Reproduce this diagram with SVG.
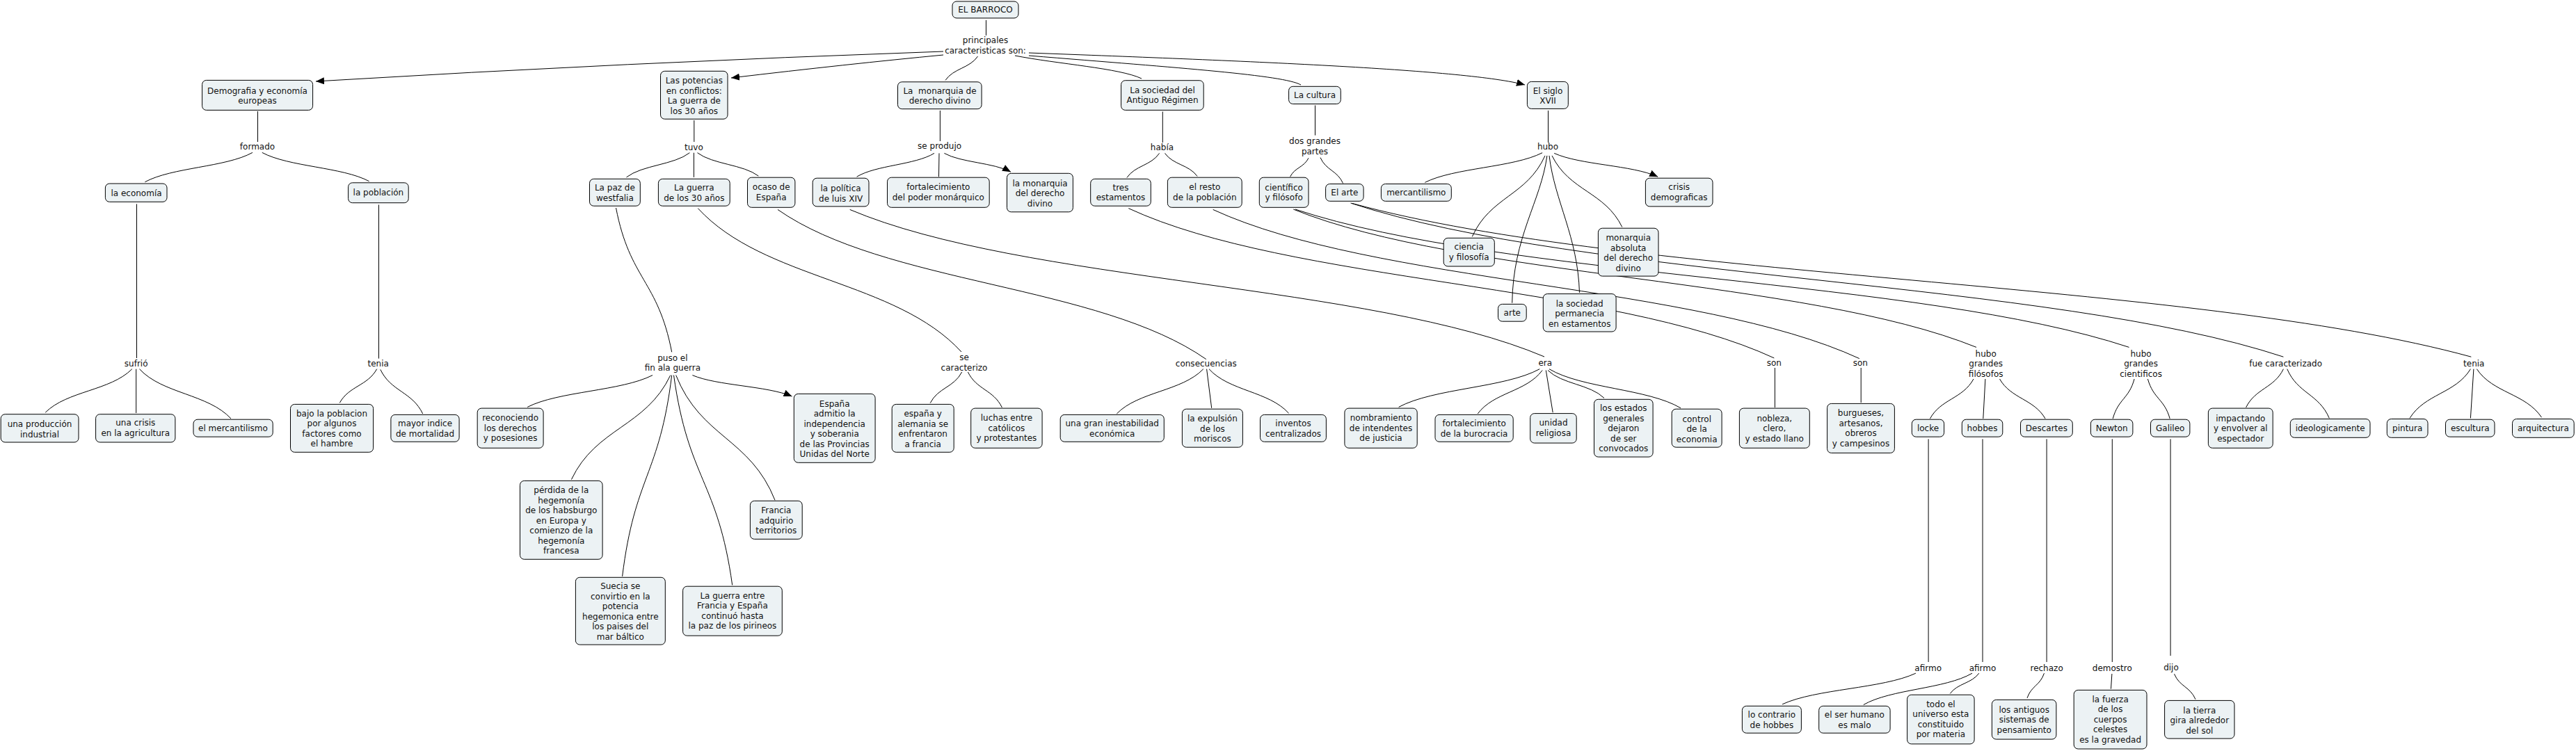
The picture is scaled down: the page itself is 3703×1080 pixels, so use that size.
<svg xmlns="http://www.w3.org/2000/svg" width="3703" height="1080" viewBox="0 0 3703 1080">
<style>
.n rect{fill:#ecf2f4;stroke:#000;stroke-width:1}
text{font-family:"DejaVu Sans",Verdana,sans-serif;font-size:12px;fill:#111;text-anchor:middle}
.c path,.c line{fill:none;stroke:#000;stroke-width:1}
</style>
<defs>
<marker id="ah" markerWidth="12" markerHeight="10" refX="12" refY="5" orient="auto" markerUnits="userSpaceOnUse"><path d="M0,0 L12,5 L0,10 z" fill="#000"/></marker>
</defs>
<rect x="0" y="0" width="3703" height="1080" fill="#fff"/>
<g id="connectors" class="c">
<line x1="1417.5" y1="29" x2="1417.5" y2="51"/>
<path d="M1356,74 Q900,90 454,117" marker-end="url(#ah)"/>
<path d="M1356,79 Q1220,92 1051,112" marker-end="url(#ah)"/>
<path d="M1405.6,81 C1393.9,98.2 1370.7,98.2 1359,115.4"/>
<path d="M1459,80 C1520,92 1610,98 1641,113"/>
<path d="M1479,80 C1700,98 1845,108 1870,122"/>
<path d="M1479,76 C1800,88 2110,100 2192,122" marker-end="url(#ah)"/>
<line x1="370.5" y1="160" x2="370.5" y2="204"/>
<line x1="997.8" y1="173" x2="997.8" y2="204"/>
<line x1="1351.4" y1="159" x2="1351.4" y2="203"/>
<line x1="1671.3" y1="160.5" x2="1671.3" y2="205"/>
<line x1="1890.5" y1="151.5" x2="1890.5" y2="194.6"/>
<line x1="2225.5" y1="159" x2="2225.5" y2="205"/>
<line x1="196.5" y1="293.4" x2="196.5" y2="515"/>
<line x1="544.5" y1="294.5" x2="544.5" y2="515.6"/>
<line x1="195.7" y1="530.7" x2="195.7" y2="594"/>
<line x1="997.4" y1="219.7" x2="997.4" y2="254.9"/>
<line x1="1350" y1="220.4" x2="1349.5" y2="254.2"/>
<line x1="2551.4" y1="529" x2="2551.4" y2="586"/>
<line x1="2675.2" y1="529" x2="2675.2" y2="579"/>
<line x1="2772.1" y1="631.4" x2="2772.1" y2="952"/>
<line x1="2850" y1="631.4" x2="2850" y2="952"/>
<line x1="2942.1" y1="631.4" x2="2942.1" y2="952"/>
<line x1="3036.3" y1="631.4" x2="3036.3" y2="952"/>
<line x1="3120.1" y1="631.4" x2="3120.1" y2="943"/>
<line x1="3035.9" y1="969" x2="3034.5" y2="990.7"/>
<line x1="2853.9" y1="545" x2="2850.8" y2="602"/>
<line x1="1734.6" y1="530.7" x2="1741.7" y2="586.8"/>
<line x1="2222.3" y1="532.5" x2="2232.2" y2="593.2"/>
<line x1="3555.9" y1="530.7" x2="3551.4" y2="601.4"/>
<path d="M363,219.4 C324.4,240.6 247.1,240.6 208.4,261.7"/>
<path d="M376.8,219.4 C415.3,240.1 492.2,240.1 530.6,260.7"/>
<path d="M991.4,219.7 C968.7,237.3 923.2,237.3 900.5,254.9"/>
<path d="M1002.5,219.7 C1024.5,236.4 1068.4,236.4 1090.3,253.1"/>
<path d="M1343,220.4 C1315.2,237.3 1259.5,237.3 1231.6,254.2"/>
<path d="M1357.4,220.4 C1381.3,233.9 1429.1,233.9 1453,247.3" marker-end="url(#ah)"/>
<path d="M1666.6,220.4 C1654.9,238 1631.6,238 1619.9,255.5"/>
<path d="M1674.5,220.4 C1686.2,237 1709.5,237 1721.1,253.5"/>
<path d="M1881,227.3 C1874.4,240.8 1861.2,240.8 1854.6,254.2"/>
<path d="M1898,226.6 C1906.1,245.1 1922.4,245.1 1930.5,263.5"/>
<path d="M2217.1,219.7 C2174.9,241.1 2090.5,241.1 2048.3,262.4"/>
<path d="M2234.2,220.4 C2271.5,237.3 2345.9,237.3 2383.2,254.2" marker-end="url(#ah)"/>
<path d="M2221,223.9 C2194.8,282.1 2142.5,282.1 2116.3,340.3"/>
<path d="M2223.9,223.9 C2215,290 2175,340 2173.7,435.7"/>
<path d="M2227,223.9 C2235,290 2268,340 2270.5,420.9"/>
<path d="M2231,223.9 C2256.2,275.2 2306.6,275.2 2331.8,326.5"/>
<path d="M189.8,530.7 C158.7,562 96.4,562 65.2,593.2"/>
<path d="M200.5,530.7 C233.4,566.4 299.1,566.4 332,602"/>
<path d="M541.7,530.7 C528.3,555 501.7,555 488.3,579.3"/>
<path d="M546.8,531.4 C562,563.2 592.5,563.2 607.7,595"/>
<path d="M885.5,299 C905.6,402.7 945.6,402.7 965.7,506.3"/>
<path d="M938,539.6 C893.1,562.5 803.2,562.5 758.2,585.4"/>
<path d="M995.4,539.6 C1031.2,554.8 1102.7,554.8 1138.5,570" marker-end="url(#ah)"/>
<path d="M963.8,539.6 C928.2,614.6 857,614.6 821.4,689.6"/>
<path d="M965.7,539.6 C947.9,684.3 912.4,684.3 894.6,828.9"/>
<path d="M968.5,539.6 C989.6,690.5 1031.7,690.5 1052.7,841.4"/>
<path d="M971.7,539.6 C1007.3,629.5 1078.4,629.5 1114,719.3"/>
<path d="M1003.3,299.6 C1098,402.8 1287.3,402.8 1382,506"/>
<path d="M1382.7,535 C1371.3,557.3 1348.6,557.3 1337.2,579.6"/>
<path d="M1391.4,535 C1403.7,560.5 1428.2,560.5 1440.4,586"/>
<path d="M1118,301.4 C1272,409 1579.9,409 1733.8,516.6"/>
<path d="M1729.8,530.7 C1698.7,562.9 1636.4,562.9 1605.3,595"/>
<path d="M1738,530.7 C1766.7,562.5 1824,562.5 1852.6,594.3"/>
<path d="M1221.7,301.4 C1471.3,407.2 1970.4,407.2 2220,513"/>
<path d="M2213.2,530.7 C2162.6,558.1 2061.3,558.1 2010.7,585.4"/>
<path d="M2217.1,532.5 C2193.9,563.8 2147.4,563.8 2124.2,595"/>
<path d="M2225,532.5 C2245.3,552.5 2285.8,552.5 2306,572.5"/>
<path d="M2227,530.7 C2274.3,558.8 2368.8,558.8 2416,586.8"/>
<path d="M1622.3,299.6 C1854.3,407.3 2318.3,407.3 2550.3,514.9"/>
<path d="M1743.7,301.4 C1976,408.5 2440.5,408.5 2672.8,515.6"/>
<path d="M1859.3,301 C2104.7,400.2 2595.6,400.2 2841,499.4"/>
<path d="M1862,301 C2161.6,400.2 2760.9,400.2 3060.5,499.4"/>
<path d="M1941.6,292 C2276.8,402.6 2947.2,402.6 3282.4,513.2"/>
<path d="M1944,292.5 C2346.1,402.9 3150.2,402.9 3552.3,513.2"/>
<path d="M2837,545 C2821.4,573.6 2790,573.6 2774.4,602.1"/>
<path d="M2874.5,545 C2890.9,573.6 2923.7,573.6 2940.1,602.1"/>
<path d="M3068.1,545 C3060.4,573.6 3044.9,573.6 3037.2,602.1"/>
<path d="M3087.4,545 C3095.4,573.6 3111.3,573.6 3119.2,602.1"/>
<path d="M3282.4,530.7 C3269,558.4 3242.1,558.4 3228.6,586"/>
<path d="M3287.8,530.7 C3302.9,566.1 3333.2,566.1 3348.3,601.4"/>
<path d="M3551.4,530.7 C3529.6,566.1 3485.9,566.1 3464,601.4"/>
<path d="M3560.4,530.7 C3583.7,565.5 3630.3,565.5 3653.6,600.3"/>
<path d="M2753.9,968.2 C2705.9,990.5 2610.1,990.5 2562.1,1012.8"/>
<path d="M2835,968.2 C2796,990.9 2717.9,990.9 2678.8,1013.5"/>
<path d="M2844.8,968.2 C2834.4,982.8 2813.7,982.8 2803.3,997.4"/>
<path d="M2938.5,968.2 C2932.4,986.1 2920.1,986.1 2914,1003.9"/>
<path d="M3125.5,969.2 C3133.1,987.5 3148.4,987.5 3156,1005.7"/>
</g>
<g id="labels">
<text x="1416.5" y="62.4"><tspan x="1416.5">principales</tspan><tspan x="1416.5" dy="14.5">caracteristicas son:</tspan></text>
<text x="370" y="215.3">formado</text>
<text x="997.4" y="215.6">tuvo</text>
<text x="1350.6" y="214.2">se produjo</text>
<text x="1670.5" y="216">había</text>
<text x="1890" y="207.3"><tspan x="1890">dos grandes</tspan><tspan x="1890" dy="14.5">partes</tspan></text>
<text x="2225" y="215.3">hubo</text>
<text x="195.7" y="527.2">sufrió</text>
<text x="543.7" y="527.2">tenia</text>
<text x="966.9" y="518.7"><tspan x="966.9">puso el</tspan><tspan x="966.9" dy="14.5">fin ala guerra</tspan></text>
<text x="1386" y="518.3"><tspan x="1386">se</tspan><tspan x="1386" dy="14.5">caracterizo</tspan></text>
<text x="1733.8" y="527.3">consecuencias</text>
<text x="2221.3" y="526.3">era</text>
<text x="2550.3" y="526.3">son</text>
<text x="2674.3" y="526.3">son</text>
<text x="2854.7" y="512.5"><tspan x="2854.7">hubo</tspan><tspan x="2854.7" dy="14.5">grandes</tspan><tspan x="2854.7" dy="14.5">filósofos</tspan></text>
<text x="3077.6" y="512.5"><tspan x="3077.6">hubo</tspan><tspan x="3077.6" dy="14.5">grandes</tspan><tspan x="3077.6" dy="14.5">cientificos</tspan></text>
<text x="3285.6" y="527.2">fue caracterizado</text>
<text x="3556.3" y="527.2">tenia</text>
<text x="2771.7" y="964.5">afirmo</text>
<text x="2850" y="964.5">afirmo</text>
<text x="2942.1" y="964.5">rechazo</text>
<text x="3036.3" y="964.5">demostro</text>
<text x="3121" y="963.7">dijo</text>
</g>
<g id="n-barroco" class="n"><rect x="1369" y="2" width="95" height="24" rx="6"/><text x="1416.5" y="18.3">EL BARROCO</text></g>
<g id="n-demografia" class="n"><rect x="290.6" y="115.4" width="159" height="43" rx="6"/><text y="134.5"><tspan x="370">Demografia y economía</tspan><tspan x="370" dy="14.5">europeas</tspan></text></g>
<g id="n-potencias" class="n"><rect x="949.5" y="102.3" width="96.5" height="68.9" rx="6"/><text y="120.2"><tspan x="997.8">Las potencias</tspan><tspan x="997.8" dy="14.5">en conflictos:</tspan><tspan x="997.8" dy="14.5">La guerra de</tspan><tspan x="997.8" dy="14.5">los 30 años</tspan></text></g>
<g id="n-monarquia" class="n"><rect x="1290.5" y="117.8" width="120.6" height="38.9" rx="6"/><text y="134.7" xml:space="preserve"><tspan x="1351">La  monarquia de</tspan><tspan x="1351" dy="14.5">derecho divino</tspan></text></g>
<g id="n-sociedad" class="n"><rect x="1611.6" y="115.7" width="118.6" height="42.7" rx="6"/><text y="133.7"><tspan x="1671">La sociedad del</tspan><tspan x="1671" dy="14.5">Antiguo Régimen</tspan></text></g>
<g id="n-cultura" class="n"><rect x="1852.6" y="124.3" width="74.7" height="25.2" rx="6"/><text x="1890" y="141.2">La cultura</text></g>
<g id="n-siglo" class="n"><rect x="2195.4" y="117.4" width="58.9" height="39" rx="6"/><text y="134.7"><tspan x="2225">El siglo</tspan><tspan x="2225" dy="14.5">XVII</tspan></text></g>
<g id="n-economia" class="n"><rect x="151.4" y="264" width="88.6" height="26.3" rx="6"/><text x="196" y="281.7">la economía</text></g>
<g id="n-poblacion" class="n"><rect x="500.6" y="262.8" width="86.6" height="28.9" rx="6"/><text x="543.9" y="281">la población</text></g>
<g id="n-westfalia" class="n"><rect x="847.5" y="257.3" width="72.8" height="38.9" rx="6"/><text y="274.2"><tspan x="883.9">La paz de</tspan><tspan x="883.9" dy="14.5">westfalia</tspan></text></g>
<g id="n-guerra30" class="n"><rect x="946.4" y="257.3" width="102.8" height="38.9" rx="6"/><text y="274.2"><tspan x="997.8">La guerra</tspan><tspan x="997.8" dy="14.5">de los 30 años</tspan></text></g>
<g id="n-ocaso" class="n"><rect x="1074.5" y="255.2" width="68.4" height="43.1" rx="6"/><text y="273.1"><tspan x="1108.7">ocaso de</tspan><tspan x="1108.7" dy="14.5">España</tspan></text></g>
<g id="n-politica" class="n"><rect x="1168.2" y="256.2" width="80.8" height="40.7" rx="6"/><text y="275.2"><tspan x="1208.6">la política</tspan><tspan x="1208.6" dy="14.5">de luis XIV</tspan></text></g>
<g id="n-fortalecimiento" class="n"><rect x="1275.5" y="255.2" width="146.7" height="43.1" rx="6"/><text y="273.1"><tspan x="1348.8">fortalecimiento</tspan><tspan x="1348.8" dy="14.5">del poder monárquico</tspan></text></g>
<g id="n-monarquia2" class="n"><rect x="1447.5" y="249.3" width="94.9" height="55.5" rx="6"/><text y="267.6"><tspan x="1495">la monarquia</tspan><tspan x="1495" dy="14.5">del derecho</tspan><tspan x="1495" dy="14.5">divino</tspan></text></g>
<g id="n-tres" class="n"><rect x="1567.7" y="257.3" width="86.6" height="38.9" rx="6"/><text y="273.8"><tspan x="1611">tres</tspan><tspan x="1611" dy="14.5">estamentos</tspan></text></g>
<g id="n-resto" class="n"><rect x="1678.4" y="255.2" width="106.8" height="43.1" rx="6"/><text y="273.1"><tspan x="1731.8">el resto</tspan><tspan x="1731.8" dy="14.5">de la población</tspan></text></g>
<g id="n-cientifico" class="n"><rect x="1810.3" y="255.2" width="70.7" height="43.1" rx="6"/><text y="273.8"><tspan x="1845.6">científico</tspan><tspan x="1845.6" dy="14.5">y filósofo</tspan></text></g>
<g id="n-elarte" class="n"><rect x="1905.6" y="264.5" width="54.5" height="24.8" rx="6"/><text x="1932.9" y="281.4">El arte</text></g>
<g id="n-mercantilismo" class="n"><rect x="1985.4" y="264.5" width="100.9" height="24.8" rx="6"/><text x="2035.8" y="281.4">mercantilismo</text></g>
<g id="n-crisis" class="n"><rect x="2365.4" y="256.2" width="96.6" height="40.7" rx="6"/><text y="273.1"><tspan x="2413.7">crisis</tspan><tspan x="2413.7" dy="14.5">demograficas</tspan></text></g>
<g id="n-ciencia" class="n"><rect x="2075.2" y="342.3" width="73.1" height="40.7" rx="6"/><text y="359.2"><tspan x="2111.7">ciencia</tspan><tspan x="2111.7" dy="14.5">y filosofía</tspan></text></g>
<g id="n-monarquiaabs" class="n"><rect x="2297.4" y="328.2" width="86.6" height="68.9" rx="6"/><text y="346.1"><tspan x="2340.7">monarquia</tspan><tspan x="2340.7" dy="14.5">absoluta</tspan><tspan x="2340.7" dy="14.5">del derecho</tspan><tspan x="2340.7" dy="14.5">divino</tspan></text></g>
<g id="n-arte" class="n"><rect x="2153.5" y="437.4" width="40.7" height="24.8" rx="6"/><text x="2173.8" y="454.3">arte</text></g>
<g id="n-sociedadperm" class="n"><rect x="2218.3" y="422.6" width="104.8" height="54.4" rx="6"/><text y="440.5"><tspan x="2270.7">la sociedad</tspan><tspan x="2270.7" dy="14.5">permanecia</tspan><tspan x="2270.7" dy="14.5">en estamentos</tspan></text></g>
<g id="n-produccion" class="n"><rect x="1.2" y="595.7" width="111.8" height="40.3" rx="6"/><text y="614.1"><tspan x="57">una producción</tspan><tspan x="57" dy="14.5">industrial</tspan></text></g>
<g id="n-crisisagri" class="n"><rect x="137.6" y="595.7" width="114.3" height="40.3" rx="6"/><text y="612.3"><tspan x="194.8">una crisis</tspan><tspan x="194.8" dy="14.5">en la agricultura</tspan></text></g>
<g id="n-mercantilismo2" class="n"><rect x="278" y="603.2" width="114.2" height="25" rx="6"/><text x="335" y="620.2">el mercantilismo</text></g>
<g id="n-bajo" class="n"><rect x="417.5" y="581.4" width="119.1" height="68.9" rx="6"/><text y="598.5"><tspan x="477">bajo la poblacion</tspan><tspan x="477" dy="14.5">por algunos</tspan><tspan x="477" dy="14.5">factores como</tspan><tspan x="477" dy="14.5">el hambre</tspan></text></g>
<g id="n-mayor" class="n"><rect x="561.9" y="596.4" width="98.2" height="38.9" rx="6"/><text y="613.1"><tspan x="611">mayor indice</tspan><tspan x="611" dy="14.5">de mortalidad</tspan></text></g>
<g id="n-reconociendo" class="n"><rect x="686.2" y="587.1" width="94.9" height="57.2" rx="6"/><text y="605.2"><tspan x="733.6">reconociendo</tspan><tspan x="733.6" dy="14.5">los derechos</tspan><tspan x="733.6" dy="14.5">y posesiones</tspan></text></g>
<g id="n-perdida" class="n"><rect x="747.5" y="691.4" width="118.6" height="112.9" rx="6"/><text y="709.1"><tspan x="806.8">pérdida de la</tspan><tspan x="806.8" dy="14.5">hegemonía</tspan><tspan x="806.8" dy="14.5">de los habsburgo</tspan><tspan x="806.8" dy="14.5">en Europa y</tspan><tspan x="806.8" dy="14.5">comienzo de la</tspan><tspan x="806.8" dy="14.5">hegemonía</tspan><tspan x="806.8" dy="14.5">francesa</tspan></text></g>
<g id="n-suecia" class="n"><rect x="827.4" y="830.3" width="128.9" height="96.8" rx="6"/><text y="847.3"><tspan x="891.8">Suecia se</tspan><tspan x="891.8" dy="14.5">convirtio en la</tspan><tspan x="891.8" dy="14.5">potencia</tspan><tspan x="891.8" dy="14.5">hegemonica entre</tspan><tspan x="891.8" dy="14.5">los paises del</tspan><tspan x="891.8" dy="14.5">mar báltico</tspan></text></g>
<g id="n-guerraentre" class="n"><rect x="981.6" y="843.2" width="142.7" height="71" rx="6"/><text y="860.9"><tspan x="1052.9">La guerra entre</tspan><tspan x="1052.9" dy="14.5">Francia y España</tspan><tspan x="1052.9" dy="14.5">continuó hasta</tspan><tspan x="1052.9" dy="14.5">la paz de los pirineos</tspan></text></g>
<g id="n-francia" class="n"><rect x="1078.4" y="720.3" width="74.8" height="55" rx="6"/><text y="738"><tspan x="1115.8">Francia</tspan><tspan x="1115.8" dy="14.5">adquirio</tspan><tspan x="1115.8" dy="14.5">territorios</tspan></text></g>
<g id="n-espana" class="n"><rect x="1141.3" y="566.4" width="116.8" height="98.9" rx="6"/><text y="584.5"><tspan x="1199.7">España</tspan><tspan x="1199.7" dy="14.5">admitio la</tspan><tspan x="1199.7" dy="14.5">independencia</tspan><tspan x="1199.7" dy="14.5">y soberania</tspan><tspan x="1199.7" dy="14.5">de las Provincias</tspan><tspan x="1199.7" dy="14.5">Unidas del Norte</tspan></text></g>
<g id="n-espanaalemania" class="n"><rect x="1282.2" y="581.4" width="89" height="68.9" rx="6"/><text y="599.1"><tspan x="1326.7">españa y</tspan><tspan x="1326.7" dy="14.5">alemania se</tspan><tspan x="1326.7" dy="14.5">enfrentaron</tspan><tspan x="1326.7" dy="14.5">a francia</tspan></text></g>
<g id="n-luchas" class="n"><rect x="1395.7" y="587.1" width="102.4" height="57.2" rx="6"/><text y="605.2"><tspan x="1446.9">luchas entre</tspan><tspan x="1446.9" dy="14.5">católicos</tspan><tspan x="1446.9" dy="14.5">y protestantes</tspan></text></g>
<g id="n-inestabilidad" class="n"><rect x="1524.2" y="596.4" width="149.1" height="38.9" rx="6"/><text y="613.4"><tspan x="1598.7">una gran inestabilidad</tspan><tspan x="1598.7" dy="14.5">económica</tspan></text></g>
<g id="n-expulsion" class="n"><rect x="1699.4" y="588.2" width="87" height="55" rx="6"/><text y="606.3"><tspan x="1742.9">la expulsión</tspan><tspan x="1742.9" dy="14.5">de los</tspan><tspan x="1742.9" dy="14.5">moriscos</tspan></text></g>
<g id="n-inventos" class="n"><rect x="1811.5" y="596.4" width="94.9" height="38.9" rx="6"/><text y="613.1"><tspan x="1859">inventos</tspan><tspan x="1859" dy="14.5">centralizados</tspan></text></g>
<g id="n-nombramiento" class="n"><rect x="1932.9" y="587.1" width="104.3" height="57.2" rx="6"/><text y="605.2"><tspan x="1985">nombramiento</tspan><tspan x="1985" dy="14.5">de intendentes</tspan><tspan x="1985" dy="14.5">de justicia</tspan></text></g>
<g id="n-burocracia" class="n"><rect x="2063" y="596.4" width="112.2" height="38.9" rx="6"/><text y="613.1"><tspan x="2119.1">fortalecimiento</tspan><tspan x="2119.1" dy="14.5">de la burocracia</tspan></text></g>
<g id="n-unidad" class="n"><rect x="2199.7" y="594.6" width="66.5" height="42.5" rx="6"/><text y="612.3"><tspan x="2233">unidad</tspan><tspan x="2233" dy="14.5">religiosa</tspan></text></g>
<g id="n-estados" class="n"><rect x="2291.5" y="574.3" width="84.6" height="82.8" rx="6"/><text y="591.3"><tspan x="2333.8">los estados</tspan><tspan x="2333.8" dy="14.5">generales</tspan><tspan x="2333.8" dy="14.5">dejaron</tspan><tspan x="2333.8" dy="14.5">de ser</tspan><tspan x="2333.8" dy="14.5">convocados</tspan></text></g>
<g id="n-control" class="n"><rect x="2403.2" y="588.2" width="71.9" height="55" rx="6"/><text y="606.6"><tspan x="2439.2">control</tspan><tspan x="2439.2" dy="14.5">de la</tspan><tspan x="2439.2" dy="14.5">economia</tspan></text></g>
<g id="n-nobleza" class="n"><rect x="2500.4" y="587.1" width="100.9" height="57.2" rx="6"/><text y="605.9"><tspan x="2550.8">nobleza,</tspan><tspan x="2550.8" dy="14.5">clero,</tspan><tspan x="2550.8" dy="14.5">y estado llano</tspan></text></g>
<g id="n-burgueses" class="n"><rect x="2626.6" y="580.4" width="96.8" height="71" rx="6"/><text y="598.1"><tspan x="2675">burgueses,</tspan><tspan x="2675" dy="14.5">artesanos,</tspan><tspan x="2675" dy="14.5">obreros</tspan><tspan x="2675" dy="14.5">y campesinos</tspan></text></g>
<g id="n-locke" class="n"><rect x="2748.3" y="603.2" width="46.3" height="25" rx="6"/><text x="2771.5" y="620.2">locke</text></g>
<g id="n-hobbes" class="n"><rect x="2820.3" y="603.2" width="58.5" height="25" rx="6"/><text x="2849.5" y="620.2">hobbes</text></g>
<g id="n-descartes" class="n"><rect x="2904.5" y="603.2" width="74.8" height="25" rx="6"/><text x="2941.9" y="620.2">Descartes</text></g>
<g id="n-newton" class="n"><rect x="3005.4" y="603.2" width="60.5" height="25" rx="6"/><text x="3035.7" y="620.2">Newton</text></g>
<g id="n-galileo" class="n"><rect x="3091.5" y="603.2" width="56.4" height="25" rx="6"/><text x="3119.7" y="620.2">Galileo</text></g>
<g id="n-impactando" class="n"><rect x="3174.4" y="587.1" width="92.8" height="57.2" rx="6"/><text y="605.6"><tspan x="3220.8">impactando</tspan><tspan x="3220.8" dy="14.5">y envolver al</tspan><tspan x="3220.8" dy="14.5">espectador</tspan></text></g>
<g id="n-ideologicamente" class="n"><rect x="3292.3" y="602.5" width="114.7" height="26.8" rx="6"/><text x="3349.7" y="619.5">ideologicamente</text></g>
<g id="n-pintura" class="n"><rect x="3431.3" y="602.5" width="58.7" height="26.8" rx="6"/><text x="3460.7" y="619.5">pintura</text></g>
<g id="n-escultura" class="n"><rect x="3515.5" y="603.2" width="70.5" height="25" rx="6"/><text x="3550.8" y="620.2">escultura</text></g>
<g id="n-arquitectura" class="n"><rect x="3611.5" y="602.5" width="88.7" height="26.8" rx="6"/><text x="3655.9" y="619.5">arquitectura</text></g>
<g id="n-contrario" class="n"><rect x="2504.4" y="1015.3" width="85" height="38.9" rx="6"/><text y="1032.3"><tspan x="2546.9">lo contrario</tspan><tspan x="2546.9" dy="14.5">de hobbes</tspan></text></g>
<g id="n-malo" class="n"><rect x="2614.7" y="1015.3" width="102.4" height="38.9" rx="6"/><text y="1032.3"><tspan x="2665.9">el ser humano</tspan><tspan x="2665.9" dy="14.5">es malo</tspan></text></g>
<g id="n-universo" class="n"><rect x="2741.6" y="999.2" width="96.5" height="70.7" rx="6"/><text y="1016.6"><tspan x="2789.9">todo el</tspan><tspan x="2789.9" dy="14.5">universo esta</tspan><tspan x="2789.9" dy="14.5">constituido</tspan><tspan x="2789.9" dy="14.5">por materia</tspan></text></g>
<g id="n-antiguos" class="n"><rect x="2863.4" y="1006.4" width="92.5" height="56.7" rx="6"/><text y="1024.5"><tspan x="2909.7">los antiguos</tspan><tspan x="2909.7" dy="14.5">sistemas de</tspan><tspan x="2909.7" dy="14.5">pensamiento</tspan></text></g>
<g id="n-fuerza" class="n"><rect x="2981.2" y="992.4" width="104.8" height="84.6" rx="6"/><text y="1009.5"><tspan x="3033.6">la fuerza</tspan><tspan x="3033.6" dy="14.5">de los</tspan><tspan x="3033.6" dy="14.5">cuerpos</tspan><tspan x="3033.6" dy="14.5">celestes</tspan><tspan x="3033.6" dy="14.5">es la gravedad</tspan></text></g>
<g id="n-tierra" class="n"><rect x="3111.6" y="1007.4" width="100.4" height="54.7" rx="6"/><text y="1025.5"><tspan x="3161.8">la tierra</tspan><tspan x="3161.8" dy="14.5">gira alrededor</tspan><tspan x="3161.8" dy="14.5">del sol</tspan></text></g>
</svg>
